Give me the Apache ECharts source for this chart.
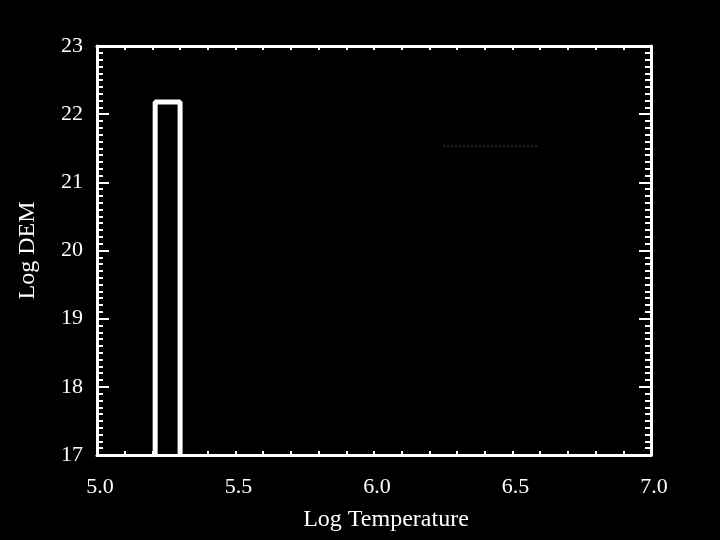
<!DOCTYPE html>
<html><head><meta charset="utf-8">
<script src="https://cdn.jsdelivr.net/npm/echarts@6/dist/echarts.min.js"></script>
<style>html,body{margin:0;padding:0;background:#000;}#c{width:720px;height:540px;}</style>
</head><body><div id="c"></div>
<script>
// Data
const binLeft = [5.21];
const binRight = [5.30];
const logDEM = [22.18];
const floorDEM = 17;
const legendLineX = [6.25, 6.59];
const legendLineY = [21.53, 21.53];
const xTicks = [5.0, 5.5, 6.0, 6.5, 7.0];
const yTicks = [17, 18, 19, 20, 21, 22, 23];

const histPts = [];
for (let i = 0; i < logDEM.length; i++) {
  histPts.push([binLeft[i], floorDEM], [binLeft[i], logDEM[i]], [binRight[i], logDEM[i]], [binRight[i], floorDEM]);
}
const legPts = legendLineX.map((x, i) => [x, legendLineY[i]]);

const font = 'Liberation Serif';
const chart = echarts.init(document.getElementById('c'));
const baseX = {
  type: 'value', min: 5.0, max: 7.0, interval: 0.5,
  axisLine: {show: true, onZero: false, lineStyle: {color: '#fff', width: 3}},
  axisTick: {show: true, inside: true, length: 4, lineStyle: {color: '#fff', width: 2}},
  minorTick: {show: true, splitNumber: 5, length: 4, lineStyle: {color: '#fff', width: 2}},
  splitLine: {show: false}
};
const baseY = {
  type: 'value', min: 17, max: 23, interval: 1,
  axisLine: {show: true, onZero: false, lineStyle: {color: '#fff', width: 3}},
  axisTick: {show: true, inside: true, length: 12, lineStyle: {color: '#fff', width: 2}},
  minorTick: {show: true, splitNumber: 10, length: 6, lineStyle: {color: '#fff', width: 2}},
  splitLine: {show: false}
};
chart.setOption({
  backgroundColor: '#000',
  animation: false,
  grid: {left: 97, top: 46, width: 554, height: 409},
  xAxis: [
    Object.assign({}, baseX, {
      position: 'bottom', name: 'Log Temperature', nameLocation: 'middle', nameGap: 53,
      nameTextStyle: {color: '#fff', fontFamily: font, fontSize: 24, padding: [0, 0, 0, 24]},
      axisLabel: {color: '#fff', fontFamily: font, fontSize: 22, margin: 21, padding: [0, 0, 0, 6],
        formatter: v => xTicks.includes(+v.toFixed(1)) ? v.toFixed(1) : ''}
    }),
    Object.assign({}, baseX, {position: 'top', axisLabel: {show: false}})
  ],
  yAxis: [
    Object.assign({}, baseY, {
      position: 'left', name: 'Log DEM', nameLocation: 'middle', nameGap: 57,
      nameTextStyle: {color: '#fff', fontFamily: font, fontSize: 24},
      axisLabel: {color: '#fff', fontFamily: font, fontSize: 22, margin: 14,
        formatter: v => yTicks.includes(v) ? String(v) : ''}
    }),
    Object.assign({}, baseY, {position: 'right', axisLabel: {show: false}})
  ],
  series: [
    {type: 'line', data: histPts, symbol: 'none', lineStyle: {color: '#fff', width: 5}, clip: false, z: 3},
    {type: 'line', data: legPts, symbol: 'none', lineStyle: {color: '#2a2a2a', width: 2, type: 'dotted'}}
  ]
});
</script></body></html>
